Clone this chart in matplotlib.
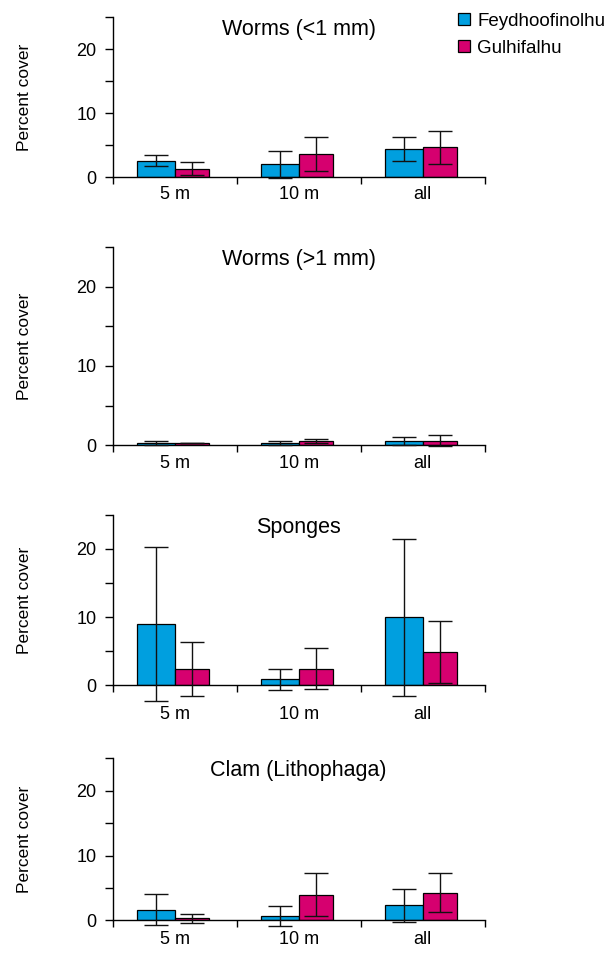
import numpy as np
import matplotlib
matplotlib.use("Agg")
import matplotlib.pyplot as plt
from matplotlib.patches import Patch

plt.rcParams["font.family"] = ["Liberation Sans", "DejaVu Sans"]

categories = ["5 m", "10 m", "all"]
sites = ["Feydhoofinolhu", "Gulhifalhu"]
titles = ["Worms (<1 mm)", "Worms (>1 mm)", "Sponges", "Clam (Lithophaga)"]

# mean percent cover and error, per panel, per depth class
feyd_mean = [[2.6, 2.0, 4.4], [0.3, 0.3, 0.6], [9.0, 0.87, 9.95], [1.6, 0.66, 2.3]]
feyd_err = [[0.8, 2.1, 1.85], [0.25, 0.25, 0.5], [11.3, 1.5, 11.5], [2.4, 1.5, 2.6]]
gulh_mean = [[1.35, 3.67, 4.65], [0.3, 0.6, 0.6], [2.4, 2.4, 4.85], [0.3, 3.94, 4.25]]
gulh_err = [[1.0, 2.68, 2.63], [0.05, 0.25, 0.75], [3.95, 3.0, 4.55], [0.65, 3.3, 3.0]]

blue = "#009fdf"
pink = "#d6006f"

W, H = 616, 955
fig = plt.figure(figsize=(W / 100, H / 100), dpi=100)

# axes boxes in pixels (top, bottom) and x label pad per panel
boxes = [(17, 177.3), (247, 445.3), (514.7, 685.3), (758.3, 920.3)]
xpads = [6, 7, 14.8, 7.6]
x_left, x_right = 112.7, 484.7

x = np.arange(len(categories))
wb, wp = 0.306, 0.274

for i, (top, bot) in enumerate(boxes):
    ax = fig.add_axes([x_left / W, 1 - bot / H, (x_right - x_left) / W, (bot - top) / H])
    ax.bar(x - wb / 2, feyd_mean[i], width=wb, color=blue, edgecolor="black", linewidth=0.9, zorder=2)
    ax.bar(x + wp / 2, gulh_mean[i], width=wp, color=pink, edgecolor="black", linewidth=0.9, zorder=2)
    ax.errorbar(x - wb / 2, feyd_mean[i], yerr=feyd_err[i], fmt="none", ecolor="#111111",
                elinewidth=1.0, capsize=8.5, capthick=1.0, zorder=3, clip_on=False)
    ax.errorbar(x + wp / 2, gulh_mean[i], yerr=gulh_err[i], fmt="none", ecolor="#111111",
                elinewidth=1.0, capsize=8.5, capthick=1.0, zorder=3, clip_on=False)

    ax.set_xlim(-0.5, 2.5)
    ax.set_ylim(0, 25)
    for s in ["top", "right"]:
        ax.spines[s].set_visible(False)
    for s in ["left", "bottom"]:
        ax.spines[s].set_linewidth(1.0)

    ax.set_yticks([0, 10, 20])
    ax.set_yticks([5, 15, 25], minor=True)
    ax.tick_params(axis="y", which="both", length=5.5, width=1.0, direction="out", labelsize=13, pad=6)

    ax.set_xticks(x)
    ax.set_xticklabels(categories)
    ax.set_xticks([-0.5, 0.5, 1.5, 2.5], minor=True)
    ax.tick_params(axis="x", which="major", length=0, labelsize=13, pad=xpads[i])
    ax.tick_params(axis="x", which="minor", length=5, width=1.0, direction="out")

    ax.text(0.5, 1 - 12.5 / (bot - top), titles[i], transform=ax.transAxes,
            ha="center", va="center", fontsize=15.5)

    fig.text(25 / W, 1 - (top + bot) / 2 / H, "Percent cover", rotation=90,
             ha="center", va="center", fontsize=12.5)

handles = [Patch(facecolor=blue, edgecolor="black", linewidth=0.9),
           Patch(facecolor=pink, edgecolor="black", linewidth=0.9)]
fig.legend(handles, sites, loc="upper left", bbox_to_anchor=(458 / W, 1 - 12.5 / H),
           frameon=False, fontsize=13.5, handlelength=0.62, handleheight=0.62,
           handletextpad=0.41, labelspacing=0.55, borderpad=0, borderaxespad=0)

fig.savefig("out.png", dpi=100)
